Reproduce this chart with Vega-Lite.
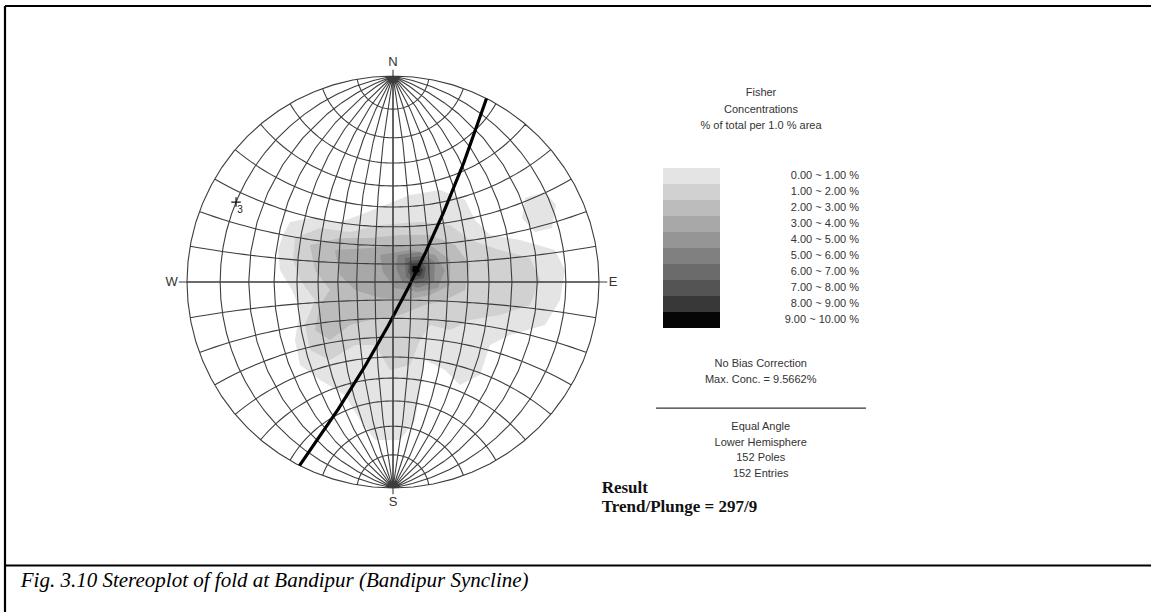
{
  "$schema": "https://vega.github.io/schema/vega-lite/v6.json",
  "width": 1151,
  "height": 612,
  "autosize": {"type": "none"},
  "padding": 0,
  "background": "white",
  "config": {"view": {"stroke": null}, "text": {"font": "Liberation Sans"}},
  "layer": [
    {
      "description": "Fisher density contours, in net-radius units (centre 0,0; primitive radius 1)",
      "data": {"values": [
        {"type": "Feature", "properties": {"bin": "0.00 ~ 1.00 %"}, "geometry": {"type": "Polygon", "coordinates": [[[-0.534,0.228],[-0.5,0.291],[-0.403,0.311],[-0.257,0.291],[-0.16,0.325],[-0.039,0.374],[0.083,0.422],[0.228,0.447],[0.35,0.398],[0.398,0.301],[0.471,0.228],[0.617,0.204],[0.786,0.155],[0.835,0.058],[0.811,-0.087],[0.738,-0.209],[0.568,-0.257],[0.471,-0.306],[0.422,-0.451],[0.325,-0.5],[0.252,-0.427],[0.155,-0.379],[0.131,-0.524],[0.107,-0.67],[0.034,-0.767],[-0.087,-0.767],[-0.16,-0.67],[-0.233,-0.549],[-0.354,-0.476],[-0.451,-0.403],[-0.476,-0.282],[-0.451,-0.136],[-0.49,-0.039],[-0.549,0.058],[-0.558,0.155],[-0.534,0.228]]]}},
        {"type": "Feature", "properties": {"bin": "0.00 ~ 1.00 %"}, "geometry": {"type": "Polygon", "coordinates": [[[0.641,0.408],[0.738,0.437],[0.791,0.374],[0.772,0.262],[0.689,0.243],[0.626,0.311],[0.641,0.408]]]}},
        {"type": "Feature", "properties": {"bin": "1.00 ~ 2.00 %"}, "geometry": {"type": "Polygon", "coordinates": [[[-0.476,0.214],[-0.354,0.262],[-0.209,0.243],[-0.063,0.277],[0.131,0.291],[0.277,0.277],[0.374,0.204],[0.519,0.155],[0.665,0.117],[0.714,0.01],[0.665,-0.112],[0.519,-0.16],[0.374,-0.184],[0.277,-0.233],[0.18,-0.209],[0.131,-0.282],[0.083,-0.403],[-0.015,-0.427],[-0.087,-0.306],[-0.184,-0.306],[-0.306,-0.379],[-0.403,-0.33],[-0.427,-0.209],[-0.379,-0.087],[-0.451,0.01],[-0.485,0.107],[-0.476,0.214]]]}},
        {"type": "Feature", "properties": {"bin": "2.00 ~ 3.00 %"}, "geometry": {"type": "Polygon", "coordinates": [[[-0.403,0.18],[-0.257,0.214],[-0.112,0.214],[0.034,0.228],[0.18,0.228],[0.301,0.18],[0.374,0.083],[0.35,-0.039],[0.252,-0.087],[0.155,-0.112],[0.034,-0.16],[-0.112,-0.184],[-0.209,-0.209],[-0.306,-0.282],[-0.379,-0.233],[-0.354,-0.112],[-0.306,-0.039],[-0.379,0.058],[-0.403,0.18]]]}},
        {"type": "Feature", "properties": {"bin": "3.00 ~ 4.00 %"}, "geometry": {"type": "Polygon", "coordinates": [[[-0.282,0.155],[-0.112,0.165],[0.034,0.18],[0.18,0.18],[0.277,0.107],[0.277,-0.015],[0.18,-0.063],[0.058,-0.087],[-0.063,-0.078],[-0.184,-0.039],[-0.257,0.034],[-0.282,0.155]]]}},
        {"type": "Feature", "properties": {"bin": "4.00 ~ 5.00 %"}, "geometry": {"type": "Polygon", "coordinates": [[[-0.063,0.131],[0.083,0.155],[0.204,0.131],[0.252,0.058],[0.218,-0.029],[0.121,-0.049],[0.01,-0.029],[-0.049,0.049],[-0.063,0.131]]]}},
        {"type": "Feature", "properties": {"bin": "5.00 ~ 6.00 %"}, "geometry": {"type": "Polygon", "coordinates": [[[0.024,0.131],[0.131,0.146],[0.204,0.097],[0.199,0],[0.121,-0.029],[0.044,0],[0.015,0.068],[0.024,0.131]]]}},
        {"type": "Feature", "properties": {"bin": "6.00 ~ 7.00 %"}, "geometry": {"type": "Polygon", "coordinates": [[[0.058,0.117],[0.141,0.126],[0.18,0.078],[0.17,0.01],[0.112,-0.01],[0.063,0.024],[0.058,0.117]]]}},
        {"type": "Feature", "properties": {"bin": "7.00 ~ 8.00 %"}, "geometry": {"type": "Polygon", "coordinates": [[[0.078,0.102],[0.131,0.107],[0.16,0.068],[0.15,0.019],[0.102,0.01],[0.073,0.049],[0.078,0.102]]]}},
        {"type": "Feature", "properties": {"bin": "8.00 ~ 9.00 %"}, "geometry": {"type": "Polygon", "coordinates": [[[0.087,0.087],[0.126,0.092],[0.146,0.058],[0.131,0.029],[0.097,0.029],[0.083,0.058],[0.087,0.087]]]}},
        {"type": "Feature", "properties": {"bin": "9.00 ~ 10.00 %"}, "geometry": {"type": "Polygon", "coordinates": [[[0.097,0.078],[0.121,0.078],[0.131,0.053],[0.112,0.039],[0.092,0.053],[0.097,0.078]]]}}
      ]},
      "mark": {"type": "geoshape", "strokeWidth": 0},
      "projection": {"type": "identity", "scale": 206, "translate": [393, 282], "reflectY": true},
      "encoding": {
        "color": {
          "field": "properties.bin",
          "type": "nominal",
          "scale": {
            "domain": ["0.00 ~ 1.00 %", "1.00 ~ 2.00 %", "2.00 ~ 3.00 %", "3.00 ~ 4.00 %", "4.00 ~ 5.00 %", "5.00 ~ 6.00 %", "6.00 ~ 7.00 %", "7.00 ~ 8.00 %", "8.00 ~ 9.00 %", "9.00 ~ 10.00 %"],
            "range": ["#e4e4e4", "#d1d1d1", "#bcbcbc", "#a8a8a8", "#959595", "#808080", "#6b6b6b", "#545454", "#383838", "#050505"]
          },
          "legend": {
            "orient": "none",
            "legendX": 663,
            "legendY": 87,
            "direction": "vertical",
            "padding": 0,
            "title": ["Fisher", "Concentrations", "% of total per 1.0 % area"],
            "titleFont": "Liberation Sans",
            "titleFontSize": 11,
            "titleFontWeight": "normal",
            "titleColor": "#333",
            "titleLineHeight": 16.5,
            "titleAlign": "center",
            "titleAnchor": "middle",
            "titlePadding": 37,
            "symbolType": "M-3.5625,-1H3.5625V1H-3.5625Z",
            "symbolSize": 256,
            "symbolStrokeWidth": 0,
            "symbolOpacity": 1,
            "symbolOffset": 20.5,
            "rowPadding": 0,
            "labelFont": "Liberation Sans",
            "labelFontSize": 11,
            "labelColor": "#333",
            "labelAlign": "right",
            "labelBaseline": "middle",
            "labelOffset": 159.5,
            "labelLimit": 200
          }
        }
      }
    },
    {
      "description": "10-degree equal-angle (Wulff) net",
      "data": {"graticule": {"step": [10, 10], "extent": [[-180, -90], [180, 90]]}},
      "mark": {"type": "geoshape", "filled": false, "stroke": "#3d3d3d", "strokeWidth": 1.1},
      "projection": {"type": "stereographic", "scale": 206, "translate": [393, 282], "clipAngle": 90.01, "rotate": [0, 0, 0]}
    },
    {
      "description": "pi great circle whose pole is the fold axis 297/9 (endpoints at strike 027/207, crossing the dip line at 81 deg toward 117)",
      "data": {"values": [
        {"type": "Feature", "properties": {"trend": 297, "plunge": 9}, "geometry": {"type": "LineString", "coordinates": [[90, 63.0], [8.03, -4.07], [-90, -63.0]]}}
      ]},
      "mark": {"type": "geoshape", "filled": false, "stroke": "#000", "strokeWidth": 3.2},
      "projection": {"type": "stereographic", "scale": 206, "translate": [393, 282], "clipAngle": 90.01, "rotate": [0, 0, 0]}
    },
    {
      "description": "fold axis 297/9 as a point on the net",
      "data": {"values": [{"set": "3", "trend": 297, "plunge": 9, "lon": -80.0, "lat": 26.64}]},
      "projection": {"type": "stereographic", "scale": 206, "translate": [393, 282], "clipAngle": 90.01, "rotate": [0, 0, 0]},
      "layer": [
        {
          "mark": {"type": "point", "shape": "M-1,0H1M0,-1V1", "size": 90, "filled": false, "stroke": "#111", "strokeWidth": 1.2, "opacity": 1},
          "encoding": {"longitude": {"field": "lon", "type": "quantitative"}, "latitude": {"field": "lat", "type": "quantitative"}}
        },
        {
          "mark": {"type": "text", "dx": 4, "dy": 8, "fontSize": 10, "color": "#222"},
          "encoding": {"longitude": {"field": "lon", "type": "quantitative"}, "latitude": {"field": "lat", "type": "quantitative"}, "text": {"field": "set"}}
        }
      ]
    },
    {
      "description": "annotations in net-radius units",
      "data": {"values": [{}]},
      "layer": [
        {
          "mark": {"type": "rule", "color": "#3d3d3d", "strokeWidth": 1.1},
          "encoding": {
            "x": {"datum": -1.04, "type": "quantitative", "scale": {"domain": [-1.9078, 3.6796], "nice": false, "zero": false}, "axis": null},
            "x2": {"datum": 1.04},
            "y": {"datum": 0, "type": "quantitative", "scale": {"domain": [-1.6019, 1.3689], "nice": false, "zero": false}, "axis": null}
          }
        },
        {
          "mark": {"type": "rule", "color": "#3d3d3d", "strokeWidth": 1.1},
          "encoding": {
            "x": {"datum": 0, "type": "quantitative", "scale": {"domain": [-1.9078, 3.6796], "nice": false, "zero": false}, "axis": null},
            "y": {"datum": -1.03, "type": "quantitative", "scale": {"domain": [-1.6019, 1.3689], "nice": false, "zero": false}, "axis": null},
            "y2": {"datum": 1.03}
          }
        },
        {
          "mark": {"type": "text", "text": "N", "fontSize": 13, "align": "center", "baseline": "middle", "color": "#333"},
          "encoding": {
            "x": {"datum": 0, "type": "quantitative", "scale": {"domain": [-1.9078, 3.6796], "nice": false, "zero": false}, "axis": null},
            "y": {"datum": 1.068, "type": "quantitative", "scale": {"domain": [-1.6019, 1.3689], "nice": false, "zero": false}, "axis": null}
          }
        },
        {
          "mark": {"type": "text", "text": "S", "fontSize": 13, "align": "center", "baseline": "middle", "color": "#333"},
          "encoding": {
            "x": {"datum": 0, "type": "quantitative", "scale": {"domain": [-1.9078, 3.6796], "nice": false, "zero": false}, "axis": null},
            "y": {"datum": -1.068, "type": "quantitative", "scale": {"domain": [-1.6019, 1.3689], "nice": false, "zero": false}, "axis": null}
          }
        },
        {
          "mark": {"type": "text", "text": "W", "fontSize": 13, "align": "center", "baseline": "middle", "color": "#333"},
          "encoding": {
            "x": {"datum": -1.075, "type": "quantitative", "scale": {"domain": [-1.9078, 3.6796], "nice": false, "zero": false}, "axis": null},
            "y": {"datum": 0, "type": "quantitative", "scale": {"domain": [-1.6019, 1.3689], "nice": false, "zero": false}, "axis": null}
          }
        },
        {
          "mark": {"type": "text", "text": "E", "fontSize": 13, "align": "center", "baseline": "middle", "color": "#333"},
          "encoding": {
            "x": {"datum": 1.068, "type": "quantitative", "scale": {"domain": [-1.9078, 3.6796], "nice": false, "zero": false}, "axis": null},
            "y": {"datum": 0, "type": "quantitative", "scale": {"domain": [-1.6019, 1.3689], "nice": false, "zero": false}, "axis": null}
          }
        },
        {
          "mark": {"type": "text", "text": ["No Bias Correction", "Max. Conc. = 9.5662%"], "fontSize": 11, "lineHeight": 16.3, "align": "center", "baseline": "alphabetic", "color": "#333"},
          "encoding": {
            "x": {"datum": 1.785, "type": "quantitative", "scale": {"domain": [-1.9078, 3.6796], "nice": false, "zero": false}, "axis": null},
            "y": {"datum": -0.411, "type": "quantitative", "scale": {"domain": [-1.6019, 1.3689], "nice": false, "zero": false}, "axis": null}
          }
        },
        {
          "mark": {"type": "rule", "color": "#333", "strokeWidth": 1.3},
          "encoding": {
            "x": {"datum": 1.277, "type": "quantitative", "scale": {"domain": [-1.9078, 3.6796], "nice": false, "zero": false}, "axis": null},
            "x2": {"datum": 2.296},
            "y": {"datum": -0.612, "type": "quantitative", "scale": {"domain": [-1.6019, 1.3689], "nice": false, "zero": false}, "axis": null}
          }
        },
        {
          "mark": {"type": "text", "text": ["Equal Angle", "Lower Hemisphere", "152 Poles", "152 Entries"], "fontSize": 11, "lineHeight": 15.7, "align": "center", "baseline": "alphabetic", "color": "#333"},
          "encoding": {
            "x": {"datum": 1.785, "type": "quantitative", "scale": {"domain": [-1.9078, 3.6796], "nice": false, "zero": false}, "axis": null},
            "y": {"datum": -0.718, "type": "quantitative", "scale": {"domain": [-1.6019, 1.3689], "nice": false, "zero": false}, "axis": null}
          }
        },
        {
          "mark": {"type": "text", "text": ["Result", "Trend/Plunge = 297/9"], "font": "Liberation Serif", "fontWeight": "bold", "fontSize": 17, "lineHeight": 19, "align": "left", "baseline": "alphabetic", "color": "#111"},
          "encoding": {
            "x": {"datum": 1.013, "type": "quantitative", "scale": {"domain": [-1.9078, 3.6796], "nice": false, "zero": false}, "axis": null},
            "y": {"datum": -1.023, "type": "quantitative", "scale": {"domain": [-1.6019, 1.3689], "nice": false, "zero": false}, "axis": null}
          }
        },
        {
          "mark": {"type": "text", "text": "Fig. 3.10 Stereoplot of fold at Bandipur (Bandipur Syncline)", "font": "Liberation Serif", "fontStyle": "italic", "fontSize": 21, "align": "left", "baseline": "alphabetic", "color": "#000"},
          "encoding": {
            "x": {"datum": -1.807, "type": "quantitative", "scale": {"domain": [-1.9078, 3.6796], "nice": false, "zero": false}, "axis": null},
            "y": {"datum": -1.479, "type": "quantitative", "scale": {"domain": [-1.6019, 1.3689], "nice": false, "zero": false}, "axis": null}
          }
        },
        {
          "mark": {"type": "rule", "color": "#000", "strokeWidth": 2.2},
          "encoding": {
            "x": {"datum": -1.8835, "type": "quantitative", "scale": {"domain": [-1.9078, 3.6796], "nice": false, "zero": false}, "axis": null},
            "y": {"datum": -1.6019, "type": "quantitative", "scale": {"domain": [-1.6019, 1.3689], "nice": false, "zero": false}, "axis": null},
            "y2": {"datum": 1.3398}
          }
        },
        {
          "mark": {"type": "rule", "color": "#000", "strokeWidth": 2.2},
          "encoding": {
            "x": {"datum": -1.8835, "type": "quantitative", "scale": {"domain": [-1.9078, 3.6796], "nice": false, "zero": false}, "axis": null},
            "x2": {"datum": 3.6796},
            "y": {"datum": 1.3398, "type": "quantitative", "scale": {"domain": [-1.6019, 1.3689], "nice": false, "zero": false}, "axis": null}
          }
        },
        {
          "mark": {"type": "rule", "color": "#000", "strokeWidth": 2.2},
          "encoding": {
            "x": {"datum": -1.8835, "type": "quantitative", "scale": {"domain": [-1.9078, 3.6796], "nice": false, "zero": false}, "axis": null},
            "x2": {"datum": 3.6796},
            "y": {"datum": -1.3762, "type": "quantitative", "scale": {"domain": [-1.6019, 1.3689], "nice": false, "zero": false}, "axis": null}
          }
        }
      ]
    }
  ]
}
